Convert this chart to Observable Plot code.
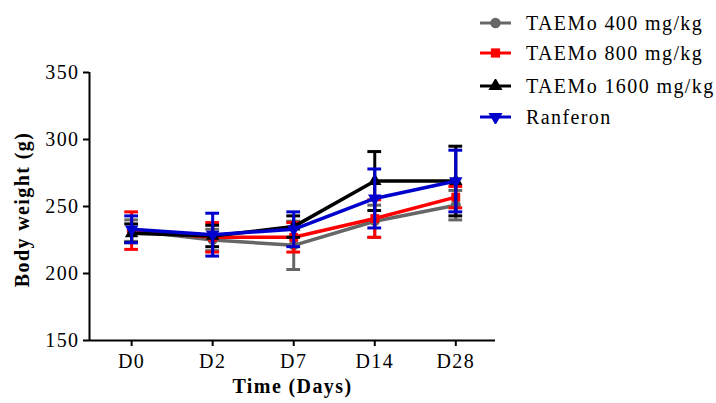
<!DOCTYPE html>
<html><head><meta charset="utf-8">
<script src="https://cdn.jsdelivr.net/npm/d3@7"></script>
<script src="https://cdn.jsdelivr.net/npm/@observablehq/plot@0.6"></script>
<style>
body{margin:0;background:#fff;font-family:"Liberation Serif","Times New Roman",serif}
#wrap{position:relative;width:716px;height:403px;overflow:hidden}
#chart svg, #chart svg text{font-family:"Liberation Serif","Times New Roman",serif !important}
#legend{position:absolute;left:0;top:0}
.row{position:absolute;left:480px;height:30px;display:flex;align-items:center;font-size:20px;letter-spacing:1.4px;white-space:nowrap;color:#000}
.row svg{margin-right:15px}
</style></head><body>
<div id="wrap"><div id="chart"></div><div id="legend"></div></div>
<script>
const days = ["D0", "D2", "D7", "D14", "D28"];
const seriesNames = ["TAEMo 400 mg/kg", "TAEMo 800 mg/kg", "TAEMo 1600 mg/kg", "Ranferon"];
const colors = ["#666666", "#ff0000", "#000000", "#0000cc"];
const mean400 = [232, 225, 221, 239, 251];
const sd400 = [8, 8, 18, 12, 11];
const mean800 = [232, 227, 227, 241, 257];
const sd800 = [14, 11, 11, 14, 8];
const mean1600 = [230, 228, 235, 269, 269];
const sd1600 = [7, 8, 8, 22, 26];
const meanRanf = [233, 229, 233, 256, 269];
const sdRanf = [10, 16, 13, 22, 23];
const yTicks = [150, 200, 250, 300, 350];

const triDown = {draw(context, size) {
  const y = -Math.sqrt(size / (Math.sqrt(3) * 3));
  context.moveTo(0, -y * 2);
  context.lineTo(-Math.sqrt(3) * y, y);
  context.lineTo(Math.sqrt(3) * y, y);
  context.closePath();
}};
const symbols = ["circle", "square", "triangle", triDown];
const means = [mean400, mean800, mean1600, meanRanf];
const sds = [sd400, sd800, sd1600, sdRanf];

const series = seriesNames.map((name, k) => ({
  name, color: colors[k], symbol: symbols[k],
  rows: days.map((d, i) => ({i, day: d, mean: means[k][i], sd: sds[k][i]}))
}));

const capHalf = 0.085;
const marks = [];
for (const s of series) {
  marks.push(
    Plot.ruleX(s.rows, {x: "i", y1: d => d.mean - d.sd, y2: d => d.mean + d.sd, stroke: s.color, strokeWidth: 3}),
    Plot.ruleY(s.rows, {y: d => d.mean + d.sd, x1: d => d.i - capHalf, x2: d => d.i + capHalf, stroke: s.color, strokeWidth: 3}),
    Plot.ruleY(s.rows, {y: d => d.mean - d.sd, x1: d => d.i - capHalf, x2: d => d.i + capHalf, stroke: s.color, strokeWidth: 3}),
    Plot.line(s.rows, {x: "i", y: "mean", stroke: s.color, strokeWidth: 3.5}),
    Plot.dot(s.rows, {x: "i", y: "mean", fill: s.color, symbol: s.symbol, r: 5, stroke: "none"})
  );
}

const serif = "Liberation Serif";
const chart = Plot.plot({
  width: 716, height: 403,
  marginLeft: 89, marginRight: 221, marginTop: 72, marginBottom: 63,
  style: {fontFamily: serif, fontSize: "20px", color: "#000", background: "#fff", letterSpacing: "1.4px"},
  x: {type: "linear", domain: [-0.52, 4.49]},
  y: {domain: [150, 350]},
  marks: [
    ...marks,
    Plot.ruleX([-0.52], {stroke: "#000", strokeWidth: 2}),
    Plot.ruleY([150], {stroke: "#000", strokeWidth: 2}),
    Plot.axisY({ticks: yTicks, tickSize: 6, tickPadding: 4, fontSize: 20, fontFamily: serif, label: null, tickFormat: d => d, strokeWidth: 2}),
    Plot.axisX({ticks: [0, 1, 2, 3, 4], tickFormat: i => days[i], tickSize: 6, tickPadding: 7, fontSize: 20, fontFamily: serif, label: null, strokeWidth: 2}),
    Plot.text(["Time (Days)"], {frameAnchor: "bottom", textAnchor: "middle", dy: 52, fontWeight: "bold", fontSize: 20, fontFamily: serif}),
    Plot.text(["Body weight (g)"], {frameAnchor: "left", textAnchor: "middle", rotate: -90, dx: -67, dy: 3, fontWeight: "bold", fontSize: 20, fontFamily: serif})
  ]
});
document.getElementById("chart").appendChild(chart);

const legendTops = [8, 38, 71, 102];
const legend = document.getElementById("legend");
series.forEach((s, k) => {
  const row = document.createElement("div");
  row.className = "row";
  row.style.top = legendTops[k] + "px";
  const svg = d3.create("svg").attr("width", 31).attr("height", 14);
  svg.append("line").attr("x1", 0).attr("x2", 31).attr("y1", 7).attr("y2", 7).attr("stroke", s.color).attr("stroke-width", 3);
  const sym = typeof s.symbol === "string" ? {circle: d3.symbolCircle, square: d3.symbolSquare, triangle: d3.symbolTriangle}[s.symbol] : s.symbol;
  svg.append("path").attr("transform", "translate(15.5,7)").attr("d", d3.symbol(sym, 85)()).attr("fill", s.color);
  row.appendChild(svg.node());
  const span = document.createElement("span");
  span.textContent = s.name;
  row.appendChild(span);
  legend.appendChild(row);
});
</script>
</body></html>
